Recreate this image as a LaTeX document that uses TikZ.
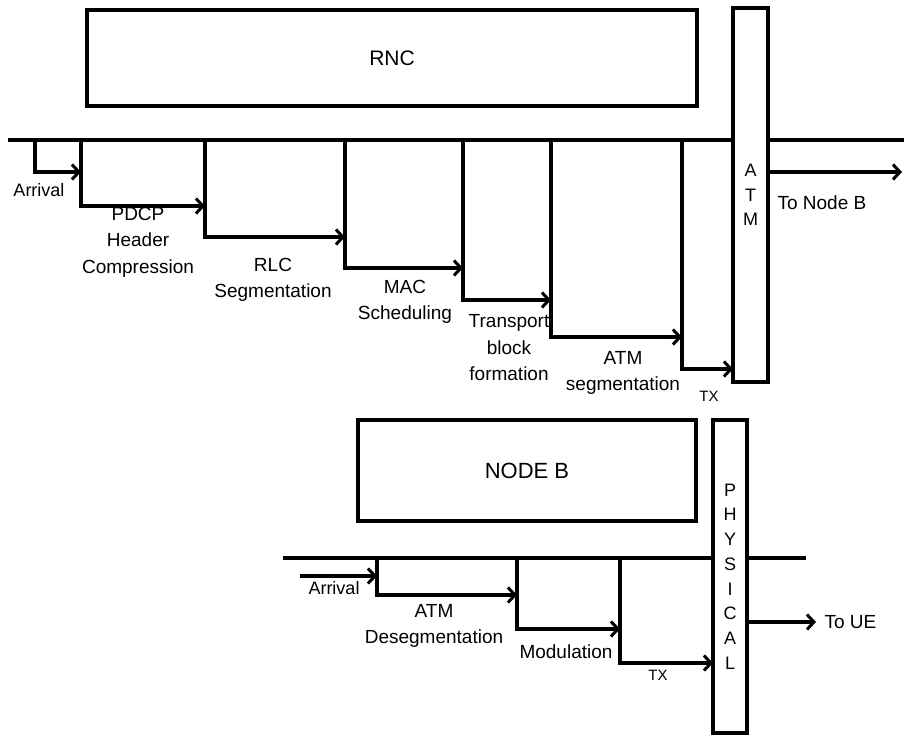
\documentclass[tikz,border=0pt]{standalone}
\usepackage{fontspec}
\setmainfont{Liberation Sans}
\usetikzlibrary{arrows.meta}
\begin{document}
\begin{tikzpicture}[x=1pt,y=-1pt,
  line width=3.2pt,
  flow/.style={-{Straight Barb[length=7pt,width=15pt,line width=3pt]}},
  box/.style={draw,line width=3.2pt,inner sep=0pt,outer sep=0pt,font=\fontsize{21}{24}\selectfont},
  vbox/.style={draw,line width=3.2pt,inner sep=0pt,outer sep=0pt,align=center,font=\fontsize{18}{24.7}\selectfont},
  lbl/.style={inner sep=0pt,align=center,font=\fontsize{19}{26.5}\selectfont},
  small/.style={inner sep=0pt,font=\fontsize{15}{16}\selectfont}]
\useasboundingbox (0,0) rectangle (904,735);
% ---------- RNC ----------
\node[box,minimum width=610pt,minimum height=96pt] (rnc) at (392,58) {RNC};
\node[vbox,minimum width=35pt,minimum height=374pt] (atm) at (750.5,195) {A\\T\\M};
\coordinate (tl) at (8,140);
\coordinate (tr) at (904,140);
\draw (tl) -- (tl -| atm.west);
\draw (tr -| atm.east) -- (tr);
\coordinate (nbend) at (902,172);
\draw[flow] (nbend -| atm.east) -- (nbend);
\node[lbl,anchor=west] (tonb) at (776,203) {To Node B};
% stairs
\coordinate (a0) at (35,140);   \coordinate (a1) at (35,172);
\coordinate (b0) at (81,140);   \coordinate (b1) at (81,206);
\coordinate (c0) at (205,140);  \coordinate (c1) at (205,237);
\coordinate (d0) at (345,140);  \coordinate (d1) at (345,268);
\coordinate (e0) at (463,140);  \coordinate (e1) at (463,300);
\coordinate (f0) at (551,140);  \coordinate (f1) at (551,337);
\coordinate (g0) at (682,140);  \coordinate (g1) at (682,369);
\draw[flow] (a0) -- (a1) -- (a1 -| b0);
\draw[flow] (b0) -- (b1) -- (b1 -| c0);
\draw[flow] (c0) -- (c1) -- (c1 -| d0);
\draw[flow] (d0) -- (d1) -- (d1 -| e0);
\draw[flow] (e0) -- (e1) -- (e1 -| f0);
\draw[flow] (f0) -- (f1) -- (f1 -| g0);
\draw[flow] (g0) -- (g1) -- (g1 -| atm.west);
\node[lbl,font=\fontsize{18}{20}\selectfont] (arr1) at (39,190) {Arrival};
\node[lbl] (pdcp) at (138,242) {PDCP\\Header\\Compression};
\node[lbl] (rlc) at (273,280) {RLC\\Segmentation};
\node[lbl] (mac) at (405,302) {MAC\\Scheduling};
\node[lbl] (tbf) at (509,348) {Transport\\block\\formation};
\node[lbl] (atmseg) at (623,373) {ATM\\segmentation};
\node[small] (tx1) at (709,396) {TX};
% ---------- NODE B ----------
\node[box,minimum width=338pt,minimum height=101pt,font=\fontsize{22}{24}\selectfont] (nodeb) at (527,470.5) {NODE B};
\node[vbox,minimum width=34pt,minimum height=313pt] (phy) at (730,576.5) {P\\H\\Y\\S\\I\\C\\A\\L};
\coordinate (bl) at (283,558);
\coordinate (br) at (806,558);
\draw (bl) -- (bl -| phy.west);
\draw (br -| phy.east) -- (br);
\coordinate (ue) at (816,622);
\draw[flow] (ue -| phy.east) -- (ue);
\node[lbl,anchor=west] (toue) at (823,622) {To UE};
\coordinate (p0) at (300,576);
\coordinate (q0) at (377,558);  \coordinate (q1) at (377,595);
\coordinate (r0) at (517,558);  \coordinate (r1) at (517,629);
\coordinate (s0) at (620,558);  \coordinate (s1) at (620,663);
\draw[flow] (p0) -- (p0 -| q0);
\draw[flow] (q0) -- (q1) -- (q1 -| r0);
\draw[flow] (r0) -- (r1) -- (r1 -| s0);
\draw[flow] (s0) -- (s1) -- (s1 -| phy.west);
\node[lbl,font=\fontsize{18}{20}\selectfont] (arr2) at (334,588) {Arrival};
\node[lbl] (atmdes) at (434,626) {ATM\\Desegmentation};
\node[lbl] (mod) at (566,652) {Modulation};
\node[small] (tx2) at (658,675) {TX};
\end{tikzpicture}
\end{document}
